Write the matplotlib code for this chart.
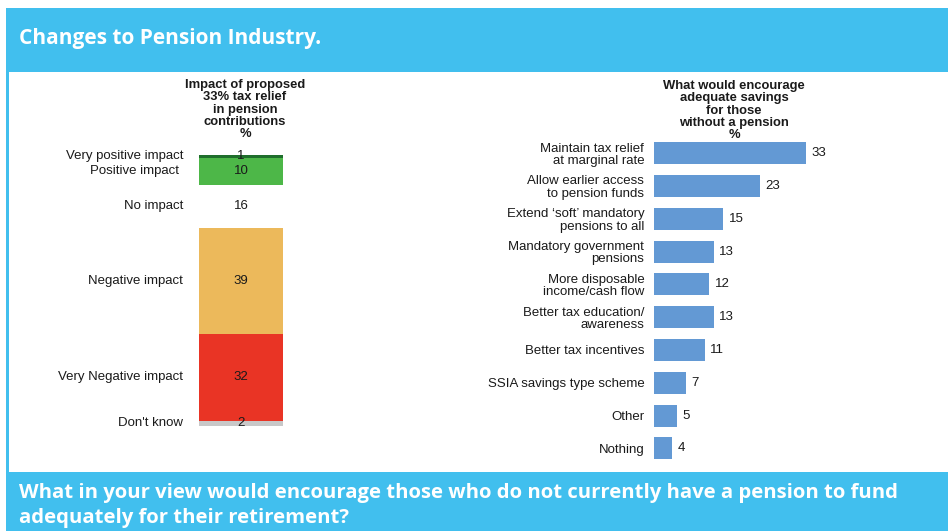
import matplotlib.pyplot as plt
from matplotlib.patches import Rectangle

W, H = 948, 531

# Impact of proposed tax relief (stacked, top to bottom)
impact_labels = ["Very positive impact", "Positive impact", "No impact",
                 "Negative impact", "Very Negative impact", "Don't know"]
impact_values = [1, 10, 16, 39, 32, 2]
impact_colors = ["#1f6e2c", "#4db748", "#ffffff", "#ecb95b", "#e93425", "#c8c8c8"]

# What would encourage adequate savings
encourage_labels = ["Maintain tax relief\nat marginal rate",
                    "Allow earlier access\nto pension funds",
                    "Extend \u2018soft\u2019 mandatory\npensions to all",
                    "Mandatory government\npensions",
                    "More disposable\nincome/cash flow",
                    "Better tax education/\nawareness",
                    "Better tax incentives",
                    "SSIA savings type scheme",
                    "Other",
                    "Nothing"]
encourage_values = [33, 23, 15, 13, 12, 13, 11, 7, 5, 4]

BAND = "#41bfee"
BAR = "#6399d4"
TXT = "#1a1a1a"
FS = 9.5
plt.rcParams['font.family'] = ['Liberation Sans', 'DejaVu Sans']


def px_axes(fig, left, top, right, bottom):
    return fig.add_axes([left / W, 1 - bottom / H, (right - left) / W, (bottom - top) / H])


def fx(x):
    return x / W


def fy(y):
    return 1 - y / H


fig = plt.figure(figsize=(W / 100, H / 100), dpi=100)

# blue frame: header band, left rule, footer band
fig.patches.append(Rectangle((fx(6), fy(72)), fx(942), 64 / H, transform=fig.transFigure,
                             facecolor=BAND, edgecolor="none"))
fig.patches.append(Rectangle((fx(6), fy(472)), fx(3), 400 / H, transform=fig.transFigure,
                             facecolor=BAND, edgecolor="none"))
fig.patches.append(Rectangle((fx(6), 0), fx(942), 59 / H, transform=fig.transFigure,
                             facecolor=BAND, edgecolor="none"))

fig.text(fx(19), fy(44), "Changes to Pension Industry.", color="white", fontsize=15,
         fontweight="bold", family="Open Sans", va="baseline", ha="left")
fig.text(fx(19), fy(498), "What in your view would encourage those who do not currently have a pension to fund",
         color="white", fontsize=14.6, fontweight="bold", family="Open Sans", va="baseline", ha="left")
fig.text(fx(19), fy(523), "adequately for their retirement?",
         color="white", fontsize=14.6, fontweight="bold", family="Open Sans", va="baseline", ha="left")

# left: stacked column
ax1 = px_axes(fig, 199, 155, 283, 426)
bottom = 0
for lab, val, col in zip(impact_labels, impact_values, impact_colors):
    ax1.bar(0, val, width=1, bottom=bottom, align="edge", color=col, edgecolor="none")
    mid = bottom + val / 2
    ax1.text(0.5, mid, str(val), ha="center", va="center", fontsize=FS, color=TXT)
    dx = -0.24 if lab == "Positive impact" else -0.19
    ax1.text(dx, mid, lab, ha="right", va="center", fontsize=FS, color=TXT)
    bottom += val
ax1.set_xlim(0, 1)
ax1.set_ylim(sum(impact_values), 0)
ax1.axis("off")
fig.text(fx(245), fy(79), "Impact of proposed\n33% tax relief\nin pension\ncontributions\n%",
         ha="center", va="top", fontsize=9.4, fontweight="bold", color=TXT, linespacing=1.03)

# right: horizontal bars
ax2 = px_axes(fig, 654, 136.6, 838, 464.9)
ypos = list(range(len(encourage_values)))
bars = ax2.barh(ypos, encourage_values, height=0.67, color=BAR, edgecolor="none")
ax2.bar_label(bars, padding=4, fontsize=FS, color=TXT)
ax2.set_xlim(0, 40)
ax2.set_ylim(len(encourage_values) - 0.5, -0.5)
ax2.set_yticks(ypos)
ax2.set_yticklabels(encourage_labels, fontsize=FS, color=TXT, linespacing=1.05)
ax2.tick_params(axis="y", length=0, pad=7)
ax2.set_xticks([])
for s in ax2.spines.values():
    s.set_visible(False)
ax2.patch.set_alpha(0)
fig.text(fx(734), fy(80), "What would encourage\nadequate savings\nfor those\nwithout a pension\n%",
         ha="center", va="top", fontsize=9.4, fontweight="bold", color=TXT, linespacing=1.03)

fig.savefig("out.png", dpi=100)
